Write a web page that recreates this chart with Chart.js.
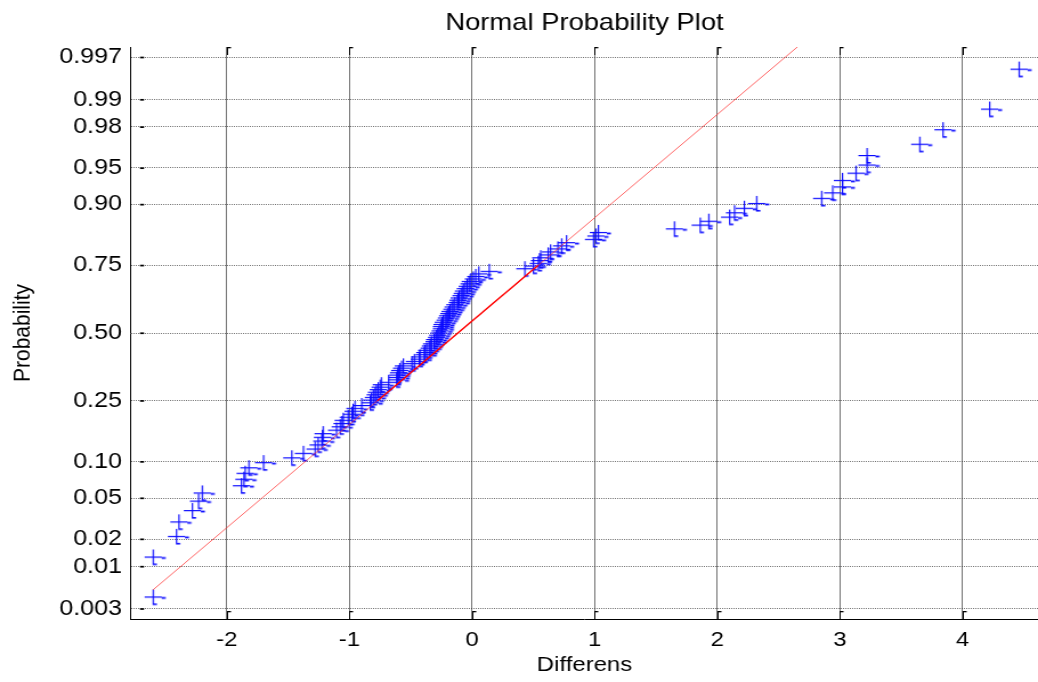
<!DOCTYPE html>
<html><head><meta charset="utf-8">
<script src="https://cdn.jsdelivr.net/npm/chart.js@4.4.1/dist/chart.umd.min.js"></script>
<style>
html,body{margin:0;padding:0;background:#fff;overflow:hidden;width:1038px;height:682px;}
#wrap{width:910px;height:682px;transform:scaleX(1.14066);transform-origin:0 0;}
</style></head><body>
<div id="wrap"><canvas id="c" width="910" height="682"></canvas></div>
<script>
// Sorted sample values (x of each marker)
const differens = [
 -2.60,-2.60,-2.41,-2.39,-2.28,-2.23,-2.20,-1.88,-1.86,-1.85,
 -1.82,-1.70,-1.47,-1.375,-1.28,-1.255,-1.225,-1.22,-1.215,-1.105,
 -1.075,-1.06,-1.05,-1.01,-0.98,-0.97,-0.955,-0.90,-0.83,-0.82,
 -0.805,-0.79,-0.78,-0.765,-0.75,-0.74,-0.68,-0.615,-0.61,-0.605,
 -0.60,-0.59,-0.575,-0.56,-0.49,-0.47,-0.43,-0.425,-0.39,-0.385,
 -0.37,-0.35,-0.34,-0.33,-0.31,-0.305,-0.29,-0.28,-0.27,-0.26,
 -0.25,-0.25,-0.245,-0.235,-0.22,-0.21,-0.20,-0.19,-0.18,-0.165,
 -0.155,-0.14,-0.12,-0.115,-0.105,-0.09,-0.08,-0.07,-0.055,-0.04,
 -0.025,-0.015,0.01,0.03,0.055,0.14,0.43,0.50,0.54,0.55,
 0.56,0.62,0.64,0.70,0.73,0.77,0.99,1.01,1.03,1.65,
 1.86,1.93,2.10,2.14,2.22,2.32,2.85,2.94,3.02,3.02,
 3.13,3.22,3.22,3.65,3.84,4.22,4.46
];
const probTicks  = [0.003,0.01,0.02,0.05,0.10,0.25,0.50,0.75,0.90,0.95,0.98,0.99,0.997];
const probLabels = ['0.003','0.01','0.02','0.05','0.10','0.25','0.50','0.75','0.90','0.95','0.98','0.99','0.997'];
const xTicks      = [-2,-1,0,1,2,3,4];
const xTickLabels = ['-2','-1','0','1','2','3','4'];
// reference line through the quartile points
const quartileX = [-0.77, 0.54];
const quartileP = [0.25, 0.75];

function norminv(p){
  const a=[-3.969683028665376e+01,2.209460984245205e+02,-2.759285104469687e+02,1.383577518672690e+02,-3.066479806614716e+01,2.506628277459239e+00];
  const b=[-5.447609879822406e+01,1.615858368580409e+02,-1.556989798598866e+02,6.680131188771972e+01,-1.328068155288572e+01];
  const c=[-7.784894002430293e-03,-3.223964580411365e-01,-2.400758277161838e+00,-2.549732539343734e+00,4.374664141464968e+00,2.938163982698783e+00];
  const d=[7.784695709041462e-03,3.224671290700398e-01,2.445134137142996e+00,3.754408661907416e+00];
  const pl=0.02425, ph=1-pl; let q,r;
  if(p<pl){q=Math.sqrt(-2*Math.log(p));return (((((c[0]*q+c[1])*q+c[2])*q+c[3])*q+c[4])*q+c[5])/((((d[0]*q+d[1])*q+d[2])*q+d[3])*q+1);}
  if(p<=ph){q=p-0.5;r=q*q;return (((((a[0]*r+a[1])*r+a[2])*r+a[3])*r+a[4])*r+a[5])*q/(((((b[0]*r+b[1])*r+b[2])*r+b[3])*r+b[4])*r+1);}
  q=Math.sqrt(-2*Math.log(1-p));return -(((((c[0]*q+c[1])*q+c[2])*q+c[3])*q+c[4])*q+c[5])/((((d[0]*q+d[1])*q+d[2])*q+d[3])*q+1);
}

const n = differens.length;
const points = differens.map((v,i)=>({x:v, y:norminv((i+0.5)/n)}));
const zq = quartileP.map(norminv);
const slope = (zq[1]-zq[0])/(quartileX[1]-quartileX[0]);
const zAt = v => zq[0] + (v-quartileX[0])*slope;
const xmin = Math.min(...differens), xmax = Math.max(...differens);
const lineFull = [{x:xmin,y:zAt(xmin)},{x:xmax,y:zAt(xmax)}];
const lineMid  = [{x:quartileX[0],y:zq[0]},{x:quartileX[1],y:zq[1]}];

// marker image: '+' with the small rendering artefacts of the original
const mk = document.createElement('canvas');
mk.width = 27; mk.height = 19;
(function(){
  const g = mk.getContext('2d');
  g.fillStyle = '#0a0aff';
  g.fillRect(6, 9, 15, 1.2);
  g.fillRect(13, 2, 1.2, 15);
  g.fillRect(21, 9.6, 3.5, 1.8);
  g.fillRect(13, 16, 3.8, 1.6);
})();

const FONT = "'Liberation Sans', Arial, sans-serif";
Chart.defaults.font.family = FONT;
Chart.defaults.color = '#000';

const tickMarks = {
  id:'tickMarks',
  afterDraw(chart){
    const {ctx, chartArea:a, scales:{x, y}} = chart;
    ctx.save(); ctx.fillStyle = '#000';
    xTicks.forEach(v=>{
      const px = Math.round(x.getPixelForValue(v));
      ctx.fillRect(px, a.top, 1, 8); ctx.fillRect(px, a.top, 3.5, 1.3);
      ctx.fillRect(px, a.bottom-8, 1, 8); ctx.fillRect(px, a.bottom-8, 3.5, 1.3);
    });
    probTicks.forEach(p=>{
      const py = y.getPixelForValue(norminv(p));
      ctx.fillRect(a.left+7.9, py-0.6, 3.5, 1.7);
    });
    ctx.restore();
  }
};

new Chart(document.getElementById('c'), {
  type:'scatter',
  data:{ datasets:[
    {data:lineMid, showLine:true, borderColor:'#ff0000', borderWidth:1.4, pointRadius:0},
    {data:lineFull, showLine:true, borderColor:'rgba(255,40,40,0.8)', borderWidth:0.9, pointRadius:0},
    {data:points, pointStyle:mk, pointRadius:7, showLine:false}
  ]},
  options:{
    responsive:false, animation:false, events:[],
    layout:{padding:0, autoPadding:false},
    plugins:{
      legend:{display:false}, tooltip:{enabled:false},
      title:{display:true, text:'Normal Probability Plot', fullSize:false,
        font:{family:FONT, size:24, weight:'normal'}, color:'#000', padding:{top:8.9,bottom:9.3}}
    },
    scales:{
      x:{type:'linear', min:-2.78, max:4.615,
        afterBuildTicks:s=>{ s.ticks = xTicks.map(v=>({value:v})); },
        afterFit:s=>{ s.height = 63; },
        ticks:{callback:(v,i)=>xTickLabels[i], font:{size:21}, padding:8.4, color:'#000', maxRotation:0, autoSkip:false},
        grid:{color:'rgba(0,0,0,0.55)', lineWidth:1, drawTicks:false},
        border:{display:true, color:'#000', width:1},
        title:{display:true, text:'Differens', font:{size:21}, color:'#000', padding:{top:0,bottom:4.4}}
      },
      y:{type:'linear', min:-2.85, max:2.85,
        afterBuildTicks:s=>{ s.ticks = probTicks.map(p=>({value:norminv(p)})); },
        afterFit:s=>{ s.width = 114.85; },
        ticks:{callback:(v,i)=>probLabels[i], font:{size:22}, padding:7.9, color:'#000', autoSkip:false},
        grid:{color:'rgba(0,0,0,0.55)', lineWidth:1, drawTicks:false},
        border:{display:true, color:'#000', width:1, dash:[1,1]},
        title:{display:true, text:'Probability', font:{size:21}, color:'#000', padding:{top:7.8,bottom:0}}
      }
    }
  },
  plugins:[tickMarks]
});
</script>
</body></html>
